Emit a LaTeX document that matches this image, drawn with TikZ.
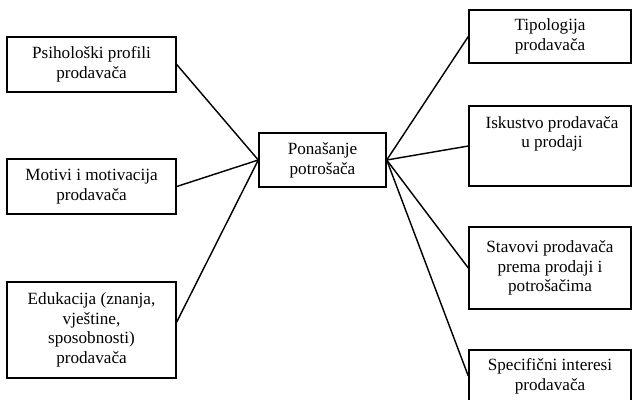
\documentclass[tikz,border=0pt]{standalone}
\usepackage{fontspec}
\setmainfont{Liberation Serif}
\begin{document}
\begin{tikzpicture}[x=0.7pt,y=-0.7pt,
  bx/.style 2 args={draw, line width=1pt, minimum width=#1*0.7pt,
    minimum height=#2*0.7pt, inner sep=0pt, align=center,
    font=\fontsize{12}{13.8}\selectfont},
  txt/.style={inner sep=0pt, align=center, font=\fontsize{12}{13.8}\selectfont},
  link/.style={line width=1pt}]
\clip (0,0) rectangle (633,399);

% central node
\node[bx={127}{54}] (c) at (322.5,160) {Ponašanje\\potrošača};

% left column
\node[bx={169}{55}] (l1) at (91.5,64.5) {Psihološki profili\\prodavača};
\node[bx={169}{55}] (l2) at (91.5,186.5) {Motivi i motivacija\\prodavača};
\node[bx={169}{96}] (l3) at (91.5,330) {Edukacija (znanja,\\vještine,\\sposobnosti)\\prodavača};

% right column
\node[bx={162}{53}] (r1) at (550,36.5) {Tipologija\\prodavača};
\node[bx={162}{80}] (r2) at (550,146) {};
\node[txt, anchor=north] (r2t) at (552,116) {Iskustvo prodavača\\u prodaji};
\node[bx={162}{82}] (r3) at (550,268) {Stavovi prodavača\\prema prodaji i\\potrošačima};
\node[bx={162}{52}] (r4) at (550,376) {Specifični interesi\\prodavača};

% connectors
\draw[link] (l1.east) -- (c.west);
\draw[link] (l2.east) -- (c.west);
\draw[link] ([yshift=5.6pt]l3.east) -- (c.west);
\draw[link] (c.east) -- (r1.west);
\draw[link] (c.east) -- (r2.west);
\draw[link] (c.east) -- (r3.west);
\draw[link] (c.east) -- (r4.west);
\end{tikzpicture}
\end{document}
